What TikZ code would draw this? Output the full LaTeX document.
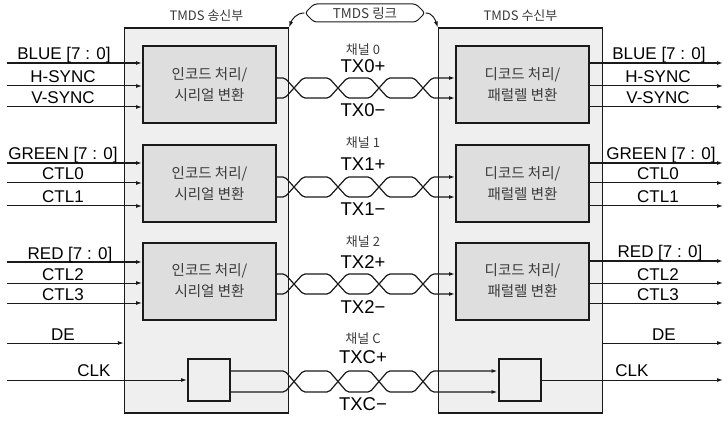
\documentclass[tikz,border=0pt]{standalone}
\usepackage{fontspec}
\setmainfont{Liberation Sans}
\newfontfamily\kr{Noto Sans CJK KR}
\usetikzlibrary{arrows.meta,positioning,shapes.symbols}
\definecolor{Panel}{HTML}{EFEFEF}
\definecolor{Block}{HTML}{DEDEDE}
\definecolor{Ink}{HTML}{1A1A1A}
\definecolor{KrInk}{HTML}{3A3A3A}

\begin{document}
\begin{tikzpicture}[
  x=1pt, y=-1pt,
  unit/.style={
    draw=Ink,
    line width=1.3pt,
    fill=Panel,
    minimum width=164pt,
    minimum height=385pt,
    inner sep=0pt
  },
  coder/.style={
    draw=Ink,
    line width=2pt,
    fill=Block,
    minimum width=133pt,
    minimum height=77pt,
    align=center,
    text=KrInk,
    font=\kr\fontsize{14.5}{21}\selectfont
  },
  clkbox/.style={draw=Ink,line width=2pt,fill=Panel,minimum width=42pt,minimum height=42pt,inner sep=0pt},
  linkbox/.style={
    signal, signal to=east and west,
    draw=Ink, line width=1pt, rounded corners=3pt,
    minimum width=120pt, minimum height=18pt, inner sep=1pt,
    text=KrInk, font=\kr\fontsize{13.5}{13.5}\selectfont
  },
  sig/.style={anchor=base,inner sep=0pt,font=\fontsize{17}{17}\selectfont},
  txlab/.style={inner sep=0pt,font=\fontsize{18.5}{18.5}\selectfont},
  chlab/.style={inner sep=0pt,text=KrInk,font=\kr\fontsize{13}{13}\selectfont},
  wire/.style={line width=1pt,color=Ink},
  bus/.style={line width=2.2pt,color=Ink},
  pair/.style={line width=1.2pt,color=Ink,rounded corners=2pt},
  arrow/.style={-{Latex[length=6pt,width=4pt]}}
]
\useasboundingbox (0,0) rectangle (728,422);

% transmitter / receiver
\node[unit] (tx) at (206.5,220.5) {};
\node[unit] (rx) at (520.5,220.5) {};
\node[chlab,above=6pt of tx] (txtitle) {TMDS 송신부};
\node[chlab,above=6pt of rx] (rxtitle) {TMDS 수신부};

\node[coder] (enc0) at (209.5,85) {인코드 처리/\\시리얼 변환};
\node[coder] (enc1) at (209.5,184) {인코드 처리/\\시리얼 변환};
\node[coder] (enc2) at (209.5,281) {인코드 처리/\\시리얼 변환};
\node[coder] (dec0) at (522.5,85) {디코드 처리/\\패럴렐 변환};
\node[coder] (dec1) at (522.5,184) {디코드 처리/\\패럴렐 변환};
\node[coder] (dec2) at (522.5,281) {디코드 처리/\\패럴렐 변환};
\node[clkbox] (cktx) at (209,380) {};
\node[clkbox] (ckrx) at (519.5,380) {};

% link
\node[linkbox] (link) at (365,13) {TMDS 링크};
\draw[wire,arrow] (link.west) to[out=180,in=70] (tx.north east);
\draw[wire,arrow] (link.east) to[out=0,in=110] (rx.north west);

% inputs
\coordinate (inB) at (7,63);
\coordinate (inH) at (7,86);
\coordinate (inV) at (7,107);
\coordinate (inG) at (7,163);
\coordinate (inC0) at (7,183);
\coordinate (inC1) at (7,206);
\coordinate (inR) at (7,262);
\coordinate (inC2) at (7,283);
\coordinate (inC3) at (7,303);
\coordinate (inDE) at (7,343);
\coordinate (inCK) at (7,380);
\draw[bus,arrow] (inB) -- (inB -| enc0.west);
\draw[wire,arrow] (inH) -- (inH -| enc0.west);
\draw[wire,arrow] (inV) -- (inV -| enc0.west);
\draw[bus,arrow] (inG) -- (inG -| enc1.west);
\draw[wire,arrow] (inC0) -- (inC0 -| enc1.west);
\draw[wire,arrow] (inC1) -- (inC1 -| enc1.west);
\draw[bus,arrow] (inR) -- (inR -| enc2.west);
\draw[wire,arrow] (inC2) -- (inC2 -| enc2.west);
\draw[wire,arrow] (inC3) -- (inC3 -| enc2.west);
\draw[wire,arrow] (inDE) -- (inDE -| tx.west);
\draw[wire,arrow] (inCK) -- (cktx.west);
\node[sig] (lB) at (64,60) {BLUE [7 : 0]};
\node[sig] (lH) at (63,83) {H-SYNC};
\node[sig] (lV) at (63,104) {V-SYNC};
\node[sig] (lG) at (63,160) {GREEN [7 : 0]};
\node[sig] (lC0) at (63,180) {CTL0};
\node[sig] (lC1) at (63,203) {CTL1};
\node[sig] (lR) at (70,259) {RED [7 : 0]};
\node[sig] (lC2) at (63,280) {CTL2};
\node[sig] (lC3) at (63,300) {CTL3};
\node[sig] (lDE) at (63,340) {DE};
\node[sig] (lCK) at (94,376) {CLK};

% outputs
\coordinate (outB) at (723,63);
\coordinate (outH) at (723,86);
\coordinate (outV) at (723,107);
\coordinate (outG) at (723,163);
\coordinate (outC0) at (723,183);
\coordinate (outC1) at (723,206);
\coordinate (outR) at (723,261);
\coordinate (outC2) at (723,283);
\coordinate (outC3) at (723,303);
\coordinate (outDE) at (723,343);
\coordinate (outCK) at (723,380);
\draw[bus,arrow] (outB -| dec0.east) -- (outB);
\draw[wire,arrow] (outH -| dec0.east) -- (outH);
\draw[wire,arrow] (outV -| dec0.east) -- (outV);
\draw[bus,arrow] (outG -| dec1.east) -- (outG);
\draw[wire,arrow] (outC0 -| dec1.east) -- (outC0);
\draw[wire,arrow] (outC1 -| dec1.east) -- (outC1);
\draw[bus,arrow] (outR -| dec2.east) -- (outR);
\draw[wire,arrow] (outC2 -| dec2.east) -- (outC2);
\draw[wire,arrow] (outC3 -| dec2.east) -- (outC3);
\draw[wire,arrow] (outDE -| rx.east) -- (outDE);
\draw[wire,arrow] (ckrx.east) -- (outCK);
\node[sig] (rB) at (659,60) {BLUE [7 : 0]};
\node[sig] (rH) at (658,83) {H-SYNC};
\node[sig] (rV) at (658,104) {V-SYNC};
\node[sig] (rG) at (661,160) {GREEN [7 : 0]};
\node[sig] (rC0) at (658,180) {CTL0};
\node[sig] (rC1) at (658,203) {CTL1};
\node[sig] (rR) at (660,258) {RED [7 : 0]};
\node[sig] (rC2) at (658,280) {CTL2};
\node[sig] (rC3) at (658,300) {CTL3};
\node[sig] (rDE) at (664,340) {DE};
\node[sig] (rCK) at (632,376) {CLK};

% twisted pairs
\draw[pair,arrow] ([yshift=7pt]enc0.east) -- ++(8,0) -- ++(18,20) -- ++(26,0) -- ++(18,-20) -- ++(23,0) -- ++(18,20) -- ++(26,0) -- ++(18,-20) -- ([yshift=7pt]dec0.west);
\draw[pair,arrow] ([yshift=-13pt]enc0.east) -- ++(8,0) -- ++(18,-20) -- ++(26,0) -- ++(18,20) -- ++(23,0) -- ++(18,-20) -- ++(26,0) -- ++(18,20) -- ([yshift=-13pt]dec0.west);
\draw[pair,arrow] ([yshift=7pt]enc1.east) -- ++(8,0) -- ++(18,20) -- ++(26,0) -- ++(18,-20) -- ++(23,0) -- ++(18,20) -- ++(26,0) -- ++(18,-20) -- ([yshift=7pt]dec1.west);
\draw[pair,arrow] ([yshift=-13pt]enc1.east) -- ++(8,0) -- ++(18,-20) -- ++(26,0) -- ++(18,20) -- ++(23,0) -- ++(18,-20) -- ++(26,0) -- ++(18,20) -- ([yshift=-13pt]dec1.west);
\draw[pair,arrow] ([yshift=7pt]enc2.east) -- ++(8,0) -- ++(18,20) -- ++(26,0) -- ++(18,-20) -- ++(23,0) -- ++(18,20) -- ++(26,0) -- ++(18,-20) -- ([yshift=7pt]dec2.west);
\draw[pair,arrow] ([yshift=-13pt]enc2.east) -- ++(8,0) -- ++(18,-20) -- ++(26,0) -- ++(18,20) -- ++(23,0) -- ++(18,-20) -- ++(26,0) -- ++(18,20) -- ([yshift=-13pt]dec2.west);
\draw[pair,arrow] ([yshift=9pt]cktx.east) -- ++(54,0) -- ++(18,21) -- ++(26,0) -- ++(18,-21) -- ++(23,0) -- ++(18,21) -- ++(26,0) -- ++(18,-21) -- ([yshift=9pt]ckrx.west);
\draw[pair,arrow] ([yshift=-12pt]cktx.east) -- ++(54,0) -- ++(18,-21) -- ++(26,0) -- ++(18,21) -- ++(23,0) -- ++(18,-21) -- ++(26,0) -- ++(18,21) -- ([yshift=-12pt]ckrx.west);

% channel labels
\node[chlab] (ch0) at (363,50) {채널 0};
\node[txlab] (tp0) at (363,66) {TX0+};
\node[txlab] (tn0) at (363,110) {TX0−};
\node[chlab] (ch1) at (363,143) {채널 1};
\node[txlab] (tp1) at (363,164) {TX1+};
\node[txlab] (tn1) at (363,209) {TX1−};
\node[chlab] (ch2) at (363,242) {채널 2};
\node[txlab] (tp2) at (363,262) {TX2+};
\node[txlab] (tn2) at (363,307) {TX2−};
\node[chlab] (chC) at (363,339) {채널 C};
\node[txlab] (tpC) at (363,357) {TXC+};
\node[txlab] (tnC) at (363,404) {TXC−};
\end{tikzpicture}
\end{document}
